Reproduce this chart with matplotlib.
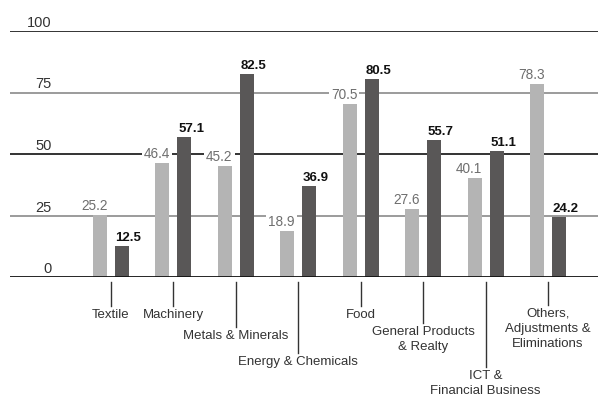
import matplotlib.pyplot as plt
import numpy as np

# ================ DATA ===================
categories = ['Textile', 'Machinery', 'Metals & Minerals', 'Energy & Chemicals', 'Food',
              'General Products\n& Realty', 'ICT &\nFinancial Business',
              'Others,\nAdjustments &\nEliminations']
prev_values = [25.2, 46.4, 45.2, 18.9, 70.5, 27.6, 40.1, 78.3]
curr_values = [12.5, 57.1, 82.5, 36.9, 80.5, 55.7, 51.1, 24.2]
grid_values = [0, 25, 50, 75, 100]

# how far down (pixels from the top) each category leader line goes
leader_end_px = [306, 306, 327, 353, 306, 323, 367, 305]

COLORS = [light, dark, grey_txt, txt] = ['#b4b4b4', '#595757', '#6e6e6e', '#333333']
plt.rcParams['font.family'] = ['Liberation Sans', 'DejaVu Sans']

W, H = 598, 401
ZERO_PX, TOP_PX = 277, 31
PX_PER_UNIT = (ZERO_PX - TOP_PX) / 100.0
GROUP_PX = 62.43


def px2y(p):
    return (ZERO_PX - p) / PX_PER_UNIT


fig = plt.figure(figsize=(W / 100, H / 100), dpi=100)
ax = fig.add_axes([10 / W, (H - ZERO_PX) / H, 588 / W, (ZERO_PX - TOP_PX) / H])
ax.set_xlim(-(111 - 10) / GROUP_PX, (598 - 111) / GROUP_PX)
ax.set_ylim(0, 100)
ax.axis('off')

# horizontal rules, black on 50/100 and grey on 25/75
for v in grid_values[1:]:
    c = '#111111' if v % 50 == 0 else '#8a8a8a'
    ax.axhline(v, color=c, lw=1.2, zorder=1)
ax.axhline(0, color='#111111', lw=2.0, zorder=4)

ytr = ax.get_yaxis_transform()
for v in grid_values:
    ax.text((52 - 10) / 588, v + 4 / PX_PER_UNIT, str(v), transform=ytr, ha='right',
            va='baseline', fontsize=10.5, color=txt)

x = np.arange(len(categories))
bw = 14 / GROUP_PX
off = 11 / GROUP_PX
ax.bar(x - off, prev_values, bw, color=light, zorder=3)
ax.bar(x + off, curr_values, bw, color=dark, zorder=3)

gap = 5 / PX_PER_UNIT
for i in range(len(categories)):
    ax.text(x[i] - off + bw / 2 + 0.01, prev_values[i] + gap, '%.1f' % prev_values[i],
            ha='right', va='baseline', fontsize=9.8, color=grey_txt, zorder=5,
            bbox=dict(facecolor='white', edgecolor='none', pad=1.5))
    ax.text(x[i] + off - bw / 2 + 0.01, curr_values[i] + gap, '%.1f' % curr_values[i],
            ha='left', va='baseline', fontsize=9.5, fontweight='bold', color='#111111',
            zorder=5)

    # leader line and category name under the axis
    ax.plot([x[i], x[i]], [px2y(282), px2y(leader_end_px[i])], color=txt, lw=1.0,
            clip_on=False)
    ax.text(x[i], px2y(leader_end_px[i] + 3), categories[i], ha='center', va='top',
            fontsize=9.5, color=txt, linespacing=1.35, multialignment='center')

fig.savefig('out.png', dpi=100)
